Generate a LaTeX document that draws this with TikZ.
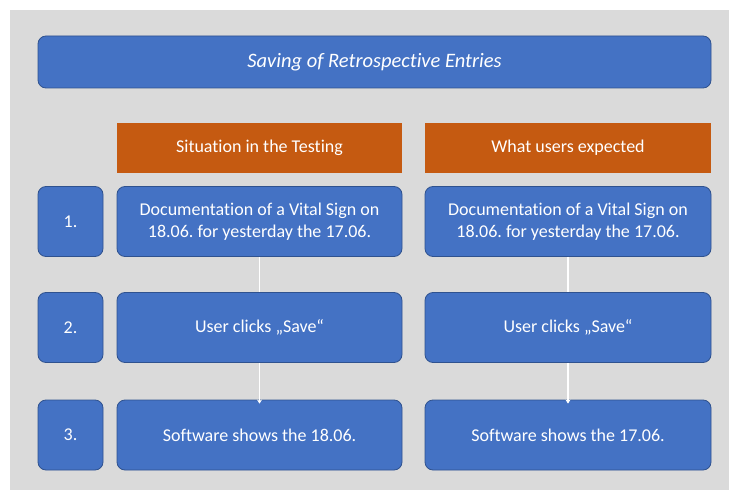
\documentclass[tikz,border=0pt]{standalone}
\usepackage{fontspec}
\setmainfont[Ligatures=NoCommon]{Carlito}
\usetikzlibrary{arrows.meta}
\frenchspacing
\definecolor{bluefill}{HTML}{4472C4}
\definecolor{blueedge}{HTML}{2F528F}
\definecolor{orangefill}{HTML}{C55A11}
\definecolor{bggrey}{HTML}{DADADA}
\tikzset{
  x=1pt, y=-1pt,
  bluebox/.style={draw=blueedge, line width=0.8pt, fill=bluefill, rounded corners=8pt, text=white, font=\fontsize{18}{22}\selectfont, align=center, inner sep=0pt},
  headbox/.style={fill=orangefill, text=white, font=\fontsize{18}{22}\selectfont, inner sep=0pt},
  link/.style={draw=white, line width=1.6pt},
}
\begin{document}
\begin{tikzpicture}
\useasboundingbox (0,0) rectangle (739,500);
\fill[white] (0,0) rectangle (739,500);
\fill[bggrey] (10,10) rectangle (729,490);
% title
\node[bluebox, minimum width=673pt, minimum height=52pt, font=\fontsize{20.5}{24}\selectfont\itshape] (title) at (374.5,62) {Saving of Retrospective Entries};
% headers
\node[headbox, minimum width=285pt, minimum height=50pt] (hl) at (259.5,148) {Situation in the Testing};
\node[headbox, minimum width=286pt, minimum height=50pt] (hr) at (568,148) {What users expected};
% numbers
\node[bluebox, minimum width=65pt, minimum height=70pt] (n1) at (70.5,221.5) {1.};
\node[bluebox, minimum width=65pt, minimum height=70pt] (n2) at (70.5,327.5) {2.};
\node[bluebox, minimum width=65pt, minimum height=70pt] (n3) at (70.5,435) {3.};
% left column
\node[bluebox, minimum width=285pt, minimum height=70pt] (l1) at (259.5,221.5) {Documentation of a Vital Sign on\\18.06. for yesterday the 17.06.};
\node[bluebox, minimum width=285pt, minimum height=70pt] (l2) at (259.5,327.5) {User clicks „Save“};
\node[bluebox, minimum width=285pt, minimum height=70pt] (l3) at (259.5,435) {Software shows the 18.06.};
% right column
\node[bluebox, minimum width=286pt, minimum height=70pt] (r1) at (568,221.5) {Documentation of a Vital Sign on\\18.06. for yesterday the 17.06.};
\node[bluebox, minimum width=286pt, minimum height=70pt] (r2) at (568,327.5) {User clicks „Save“};
\node[bluebox, minimum width=286pt, minimum height=70pt] (r3) at (568,435) {Software shows the 17.06.};
% connectors
\draw[link] (l1.south) -- (l2.north);
\draw[link, -{Stealth[length=4pt,width=5pt]}] (l2.south) -- ([yshift=-4pt]l3.north);
\draw[link] (r1.south) -- (r2.north);
\draw[link, -{Stealth[length=4pt,width=5pt]}] (r2.south) -- ([yshift=-4pt]r3.north);
\end{tikzpicture}
\end{document}
